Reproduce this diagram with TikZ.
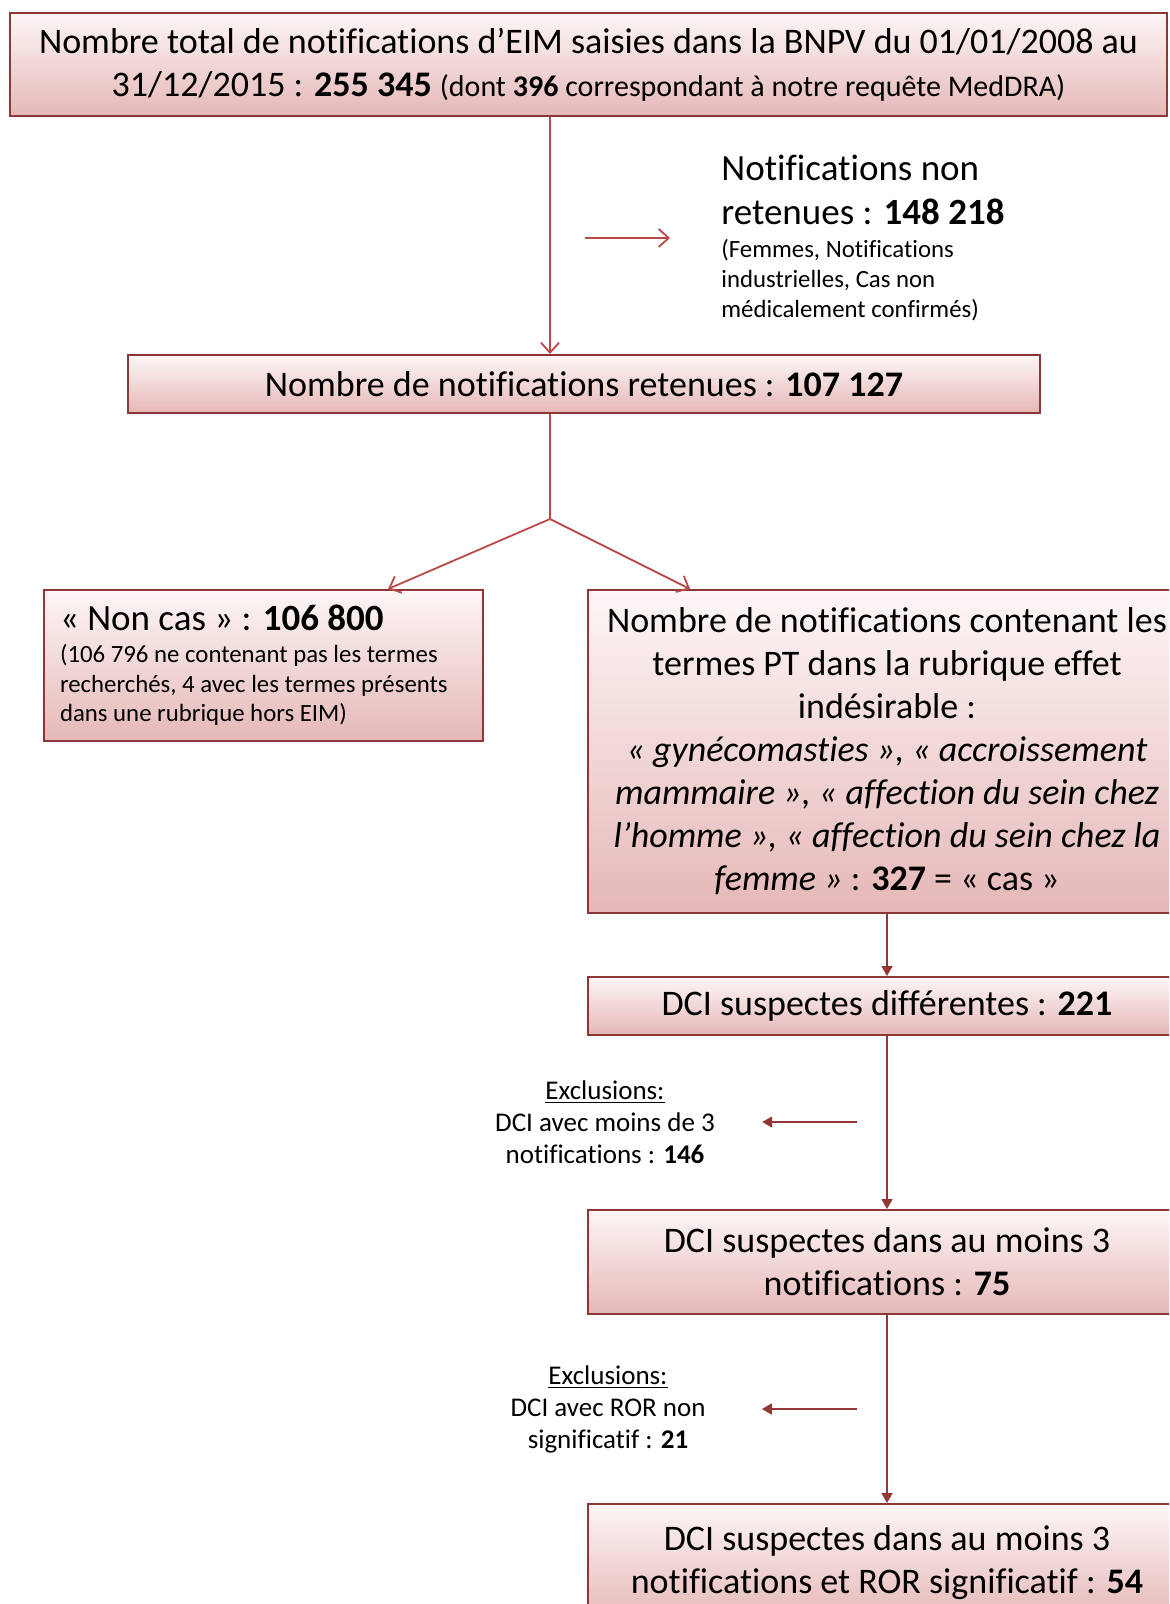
\documentclass[tikz,border=0pt]{standalone}
\usepackage{fontspec}
\setmainfont{Carlito}[Ligatures=NoCommon]
\usetikzlibrary{arrows.meta, positioning}
\definecolor{boxline}{RGB}{140,56,54}
\definecolor{boxtop}{RGB}{253,246,246}
\definecolor{boxbot}{RGB}{229,184,183}
\definecolor{arrowred}{RGB}{185,74,72}
\definecolor{arrowdark}{RGB}{149,55,53}
\newcommand{\bigtext}{\fontsize{18}{21.5}\selectfont}
\newcommand{\headtext}{\fontsize{18.5}{22}\selectfont}
\newcommand{\smalltext}{\fontsize{12.4}{14.9}\selectfont}
\newcommand{\excltext}{\fontsize{13.5}{16}\selectfont}

\begin{document}
\begin{tikzpicture}[x=0.5pt, y=-0.5pt,
    boxbase/.style={draw=boxline, line width=1pt, top color=boxtop, bottom color=boxbot},
    box/.style={boxbase, align=center, font=\bigtext, inner sep=0pt},
    notebox/.style={boxbase, align=flush left, inner ysep=0pt, inner xsep=8pt},
    plain/.style={align=flush left, inner sep=0pt},
    redline/.style={draw=arrowred, line width=0.9pt},
    openarrow/.style={redline, -{Straight Barb[length=5pt, width=9pt]}},
    fillarrow/.style={draw=arrowdark, line width=0.9pt, -{Triangle[length=5pt, width=5.5pt]}}]
    \clip (0,0) rectangle (1169,1604);

    % Top of the flow
    \node[box, minimum width=578.5pt, minimum height=51.5pt] (total) at (588.5,64.5)
      {Nombre total de notifications d’EIM saisies dans la BNPV du 01/01/2008 au\\
       31/12/2015 : \textbf{255 345} {\fontsize{15}{21.5}\selectfont (dont \textbf{396} correspondant à notre requête MedDRA)}};
    \node[plain, text width=165pt, anchor=west] (nonret) at (721,238)
      {\headtext Notifications non\\retenues : \textbf{148~218}\par\vspace{1.5pt}
       \smalltext (Femmes, Notifications\\industrielles, Cas non\\médicalement confirmés)\par};
    \node[box, minimum width=456pt, minimum height=29pt] (retenues) at (584,384)
      {Nombre de notifications retenues : \textbf{107 127}};

    % Split into non cas / cas
    \node[notebox, text width=203.5pt, minimum height=75.5pt] (noncas) at (263.5,665.5)
      {\headtext «~Non cas~» : \textbf{106 800}\par\vspace{1pt}
       \smalltext (106 796 ne contenant pas les termes\\recherchés, 4 avec les termes présents\\dans une rubrique hors EIM)\par};
    \node[box, minimum width=299pt, minimum height=161.5pt] (cas) at (887,751.5)
      {Nombre de notifications contenant les\\
       termes PT dans la rubrique effet\\
       indésirable :\\
       \textit{«~gynécomasties~», «~accroissement}\\
       \textit{mammaire~», «~affection du sein chez}\\
       \textit{l’homme~», «~affection du sein chez la}\\
       \textit{femme~»} : \textbf{327} = «~cas~»};

    % DCI column
    \node[box, minimum width=299pt, minimum height=29pt] (dci221) at (887,1006)
      {DCI suspectes différentes : \textbf{221}};
    \node[box, minimum width=299pt, minimum height=52pt] (dci75) at (887,1262)
      {DCI suspectes dans au moins 3\\notifications : \textbf{75}};
    \node[box, minimum width=299pt, minimum height=58.5pt] (dci54) at (887,1562.5)
      {DCI suspectes dans au moins 3\\notifications et ROR significatif : \textbf{54}};

    % Exclusions
    \node[align=center, inner sep=0pt, font=\excltext] (excl1) at (605,1122)
      {\underline{Exclusions:}\\DCI avec moins de 3\\notifications : \textbf{146}};
    \node[align=center, inner sep=0pt, font=\excltext] (excl2) at (608,1409)
      {\underline{Exclusions:}\\DCI avec ROR non\\significatif : \textbf{21}};

    % Connectors
    \coordinate (split) at (550,519);
    \draw[openarrow] (split |- total.south) -- (split |- retenues.north);
    \draw[openarrow] ([xshift=-68pt]nonret.west) -- ([xshift=-25.5pt]nonret.west);
    \draw[redline] (split |- retenues.south) -- (split);
    \draw[openarrow] (split) -- ([xshift=-48pt]noncas.north east);
    \draw[openarrow] (split) -- ([xshift=51.5pt]cas.north west);
    \draw[fillarrow] (cas) -- (dci221);
    \draw[fillarrow] (dci221) -- (dci75);
    \draw[fillarrow] (dci75) -- (dci54);
    \draw[fillarrow] ([xshift=-15pt]dci221.south |- excl1.east) -- ([xshift=23.5pt]excl1.east);
    \draw[fillarrow] ([xshift=-15pt]dci75.south |- excl2.east) -- ([xshift=28pt]excl2.east);
\end{tikzpicture}
\end{document}
